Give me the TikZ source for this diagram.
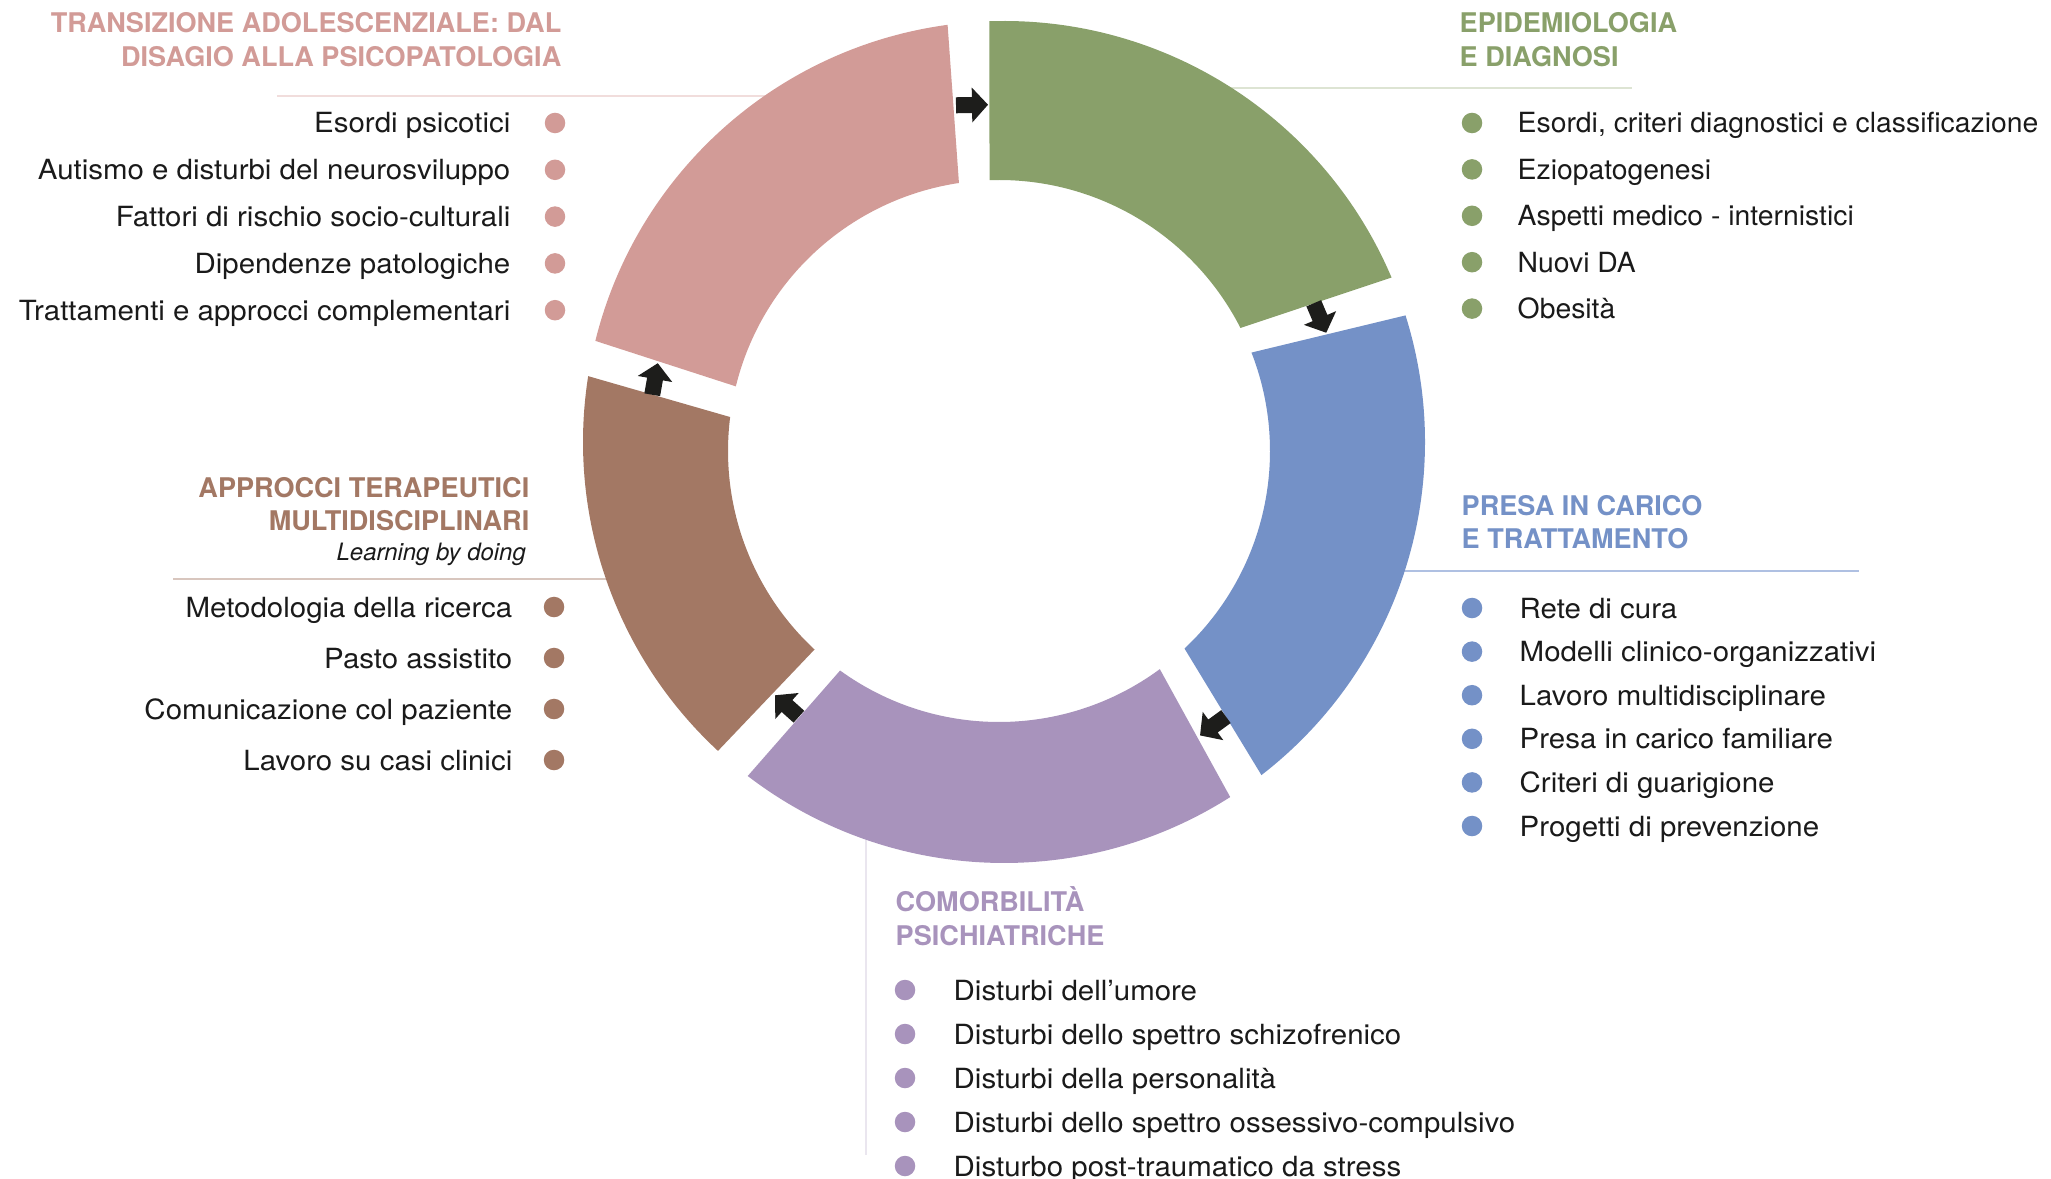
\documentclass[tikz,border=0pt]{standalone}
\usepackage{fontspec}
\setmainfont{TeX Gyre Heros}
\newfontfamily\bodyfont[FakeStretch=1.06]{TeX Gyre Heros}
\newfontfamily\narrowfont[FakeStretch=1.02]{TeX Gyre Heros}
\usetikzlibrary{calc}

\definecolor{PinkPart}{HTML}{D29B97}
\definecolor{GreenPart}{HTML}{89A06A}
\definecolor{BluePart}{HTML}{7491C7}
\definecolor{PurplePart}{HTML}{A893BC}
\definecolor{BrownPart}{HTML}{A37864}
\definecolor{PinkRule}{HTML}{F1DDDC}
\definecolor{GreenRule}{HTML}{DDE4D3}
\definecolor{BlueRule}{HTML}{AFC0E2}
\definecolor{BrownRule}{HTML}{D8C6BE}
\definecolor{PurpleRule}{HTML}{EAE6EF}
\definecolor{ArrowBlack}{HTML}{1D1D1B}
\definecolor{TextBlack}{HTML}{1A1A1A}

\def\RingOut{421}
\def\RingIn{271}
% one coloured piece of the ring: colour, outer from/to, inner from/to
\newcommand\RingPart[5]{%
    \fill[#1] ($(OutC)+(#2:\RingOut)$) arc[start angle=#2, end angle=#3, radius=\RingOut]
        -- ($(InC)+(#5:\RingIn)$) arc[start angle=#5, end angle=#4, radius=\RingIn] -- cycle;
}

\tikzset{
    listitem/.style={font=\bodyfont\fontsize{7.9}{9}\selectfont, text=TextBlack, inner sep=0pt},
    narrowitem/.style={listitem, font=\narrowfont\fontsize{7.9}{9}\selectfont},
    heading/.style={font=\bfseries\fontsize{7.7}{9}\selectfont, inner sep=0pt},
    subheading/.style={font=\itshape\fontsize{6.8}{8}\selectfont, text=TextBlack, inner sep=0pt},
    listdot/.style={circle, inner sep=0pt, minimum size=0.205cm},
    rule/.style={line width=0.6pt},
    flowarrow/.pic={\fill[ArrowBlack] (-16,-8) -- (0,-8) -- (0,-17.5) -- (16,0) -- (0,17.5) -- (0,8) -- (-16,8) -- cycle;}
}

\begin{document}
\begin{tikzpicture}[x=0.01cm, y=0.01cm]
    \useasboundingbox (0,0) rectangle (2051,-1179);
    \coordinate (OutC) at (1004,-442);
    \coordinate (InC) at (999,-451);

    % rules under the headings
    \draw[rule, PinkRule] (277,-96) -- (770,-96);
    \draw[rule, GreenRule] (1220,-88) -- (1632,-88);
    \draw[rule, BlueRule] (1390,-571) -- (1859,-571);
    \draw[rule, BrownRule] (173,-579) -- (620,-579);
    \draw[rule, PurpleRule] (866,-820) -- (866,-1155);

    % ring
    \RingPart{GreenPart}{92}{23}{92}{27}
    \RingPart{BluePart}{17.5}{-52.3}{21.3}{-46.8}
    \RingPart{PurplePart}{-57.5}{-127.5}{-53.6}{-125.9}
    \RingPart{BrownPart}{227.2}{171}{227.1}{172.8}
    \RingPart{PinkPart}{166.1}{97.7}{166.2}{98.5}

    % arrows in the gaps
    \coordinate (arrow1) at (972,-105);
    \coordinate (arrow2) at (1320,-318);
    \coordinate (arrow3) at (1213,-726);
    \coordinate (arrow4) at (787,-706);
    \coordinate (arrow5) at (655,-379);
    \pic[rotate=1] at (arrow1) {flowarrow};
    \pic[rotate=-67] at (arrow2) {flowarrow};
    \pic[rotate=-144] at (arrow3) {flowarrow};
    \pic[rotate=138] at (arrow4) {flowarrow};
    \pic[rotate=80] at (arrow5) {flowarrow};

    % top left
    \node[heading, text=PinkPart, anchor=base east] (pinkhead1) at (562,-33) {TRANSIZIONE ADOLESCENZIALE: DAL};
    \node[heading, text=PinkPart, anchor=base east] (pinkhead2) at ($(pinkhead1.base east)+(0,-33.5)$) {DISAGIO ALLA PSICOPATOLOGIA};
    \foreach \txt [count=\i] in {Esordi psicotici, Autismo e disturbi del neurosviluppo,
        Fattori di rischio socio-culturali, Dipendenze patologiche, Trattamenti e approcci complementari}{
        \node[listdot, fill=PinkPart] (pinkdot\i) at (555,{-123-46.8*(\i-1)}) {};
        \node[listitem, anchor=base east] (pink\i) at ($(pinkdot\i)+(-44,-10)$) {\txt};
    }

    % top right
    \node[heading, text=GreenPart, anchor=base west] (greenhead1) at (1459,-33) {EPIDEMIOLOGIA};
    \node[heading, text=GreenPart, anchor=base west] (greenhead2) at ($(greenhead1.base west)+(0,-33.5)$) {E DIAGNOSI};
    \foreach \txt [count=\i] in {{Esordi, criteri diagnostici e classificazione}, Eziopatogenesi,
        Aspetti medico - internistici, Nuovi DA, Obesità}{
        \node[listdot, fill=GreenPart] (greendot\i) at (1472,{-123-46.4*(\i-1)}) {};
        \node[narrowitem, anchor=base west] (green\i) at ($(greendot\i)+(45,-10)$) {\txt};
    }

    % right
    \node[heading, text=BluePart, anchor=base west] (bluehead1) at (1461,-515) {PRESA IN CARICO};
    \node[heading, text=BluePart, anchor=base west] (bluehead2) at ($(bluehead1.base west)+(0,-33)$) {E TRATTAMENTO};
    \foreach \txt [count=\i] in {Rete di cura, Modelli clinico-organizzativi, Lavoro multidisciplinare,
        Presa in carico familiare, Criteri di guarigione, Progetti di prevenzione}{
        \node[listdot, fill=BluePart] (bluedot\i) at (1472,{-608-43.6*(\i-1)}) {};
        \node[listitem, anchor=base west] (blue\i) at ($(bluedot\i)+(47,-10)$) {\txt};
    }

    % left
    \node[heading, text=BrownPart, anchor=base east] (brownhead1) at (530,-497) {APPROCCI TERAPEUTICI};
    \node[heading, text=BrownPart, anchor=base east] (brownhead2) at ($(brownhead1.base east)+(0,-33)$) {MULTIDISCIPLINARI};
    \node[subheading, anchor=base east] (brownsub) at ($(brownhead2.base east)+(-3.5,-30)$) {Learning by doing};
    \foreach \txt [count=\i] in {Metodologia della ricerca, Pasto assistito,
        Comunicazione col paziente, Lavoro su casi clinici}{
        \node[listdot, fill=BrownPart] (browndot\i) at (554,{-607-51*(\i-1)}) {};
        \node[listitem, anchor=base east] (brown\i) at ($(browndot\i)+(-41,-10)$) {\txt};
    }

    % bottom
    \node[heading, text=PurplePart, anchor=base west] (purplehead1) at (895,-911.5) {COMORBILITÀ};
    \node[heading, text=PurplePart, anchor=base west] (purplehead2) at ($(purplehead1.base west)+(0,-33.5)$) {PSICHIATRICHE};
    \foreach \txt [count=\i] in {Disturbi dell’umore, Disturbi dello spettro schizofrenico,
        Disturbi della personalità, Disturbi dello spettro ossessivo-compulsivo,
        Disturbo post-traumatico da stress}{
        \node[listdot, fill=PurplePart] (purpledot\i) at (905,{-990-44*(\i-1)}) {};
        \node[listitem, anchor=base west] (purple\i) at ($(purpledot\i)+(48,-10)$) {\txt};
    }
\end{tikzpicture}
\end{document}
